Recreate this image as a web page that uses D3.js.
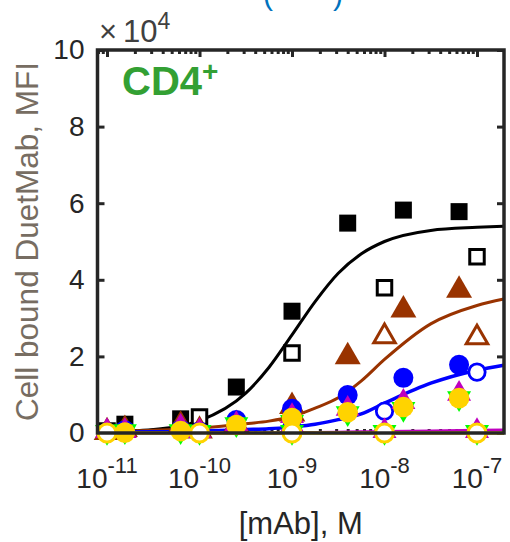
<!DOCTYPE html>
<html>
<head>
<meta charset="utf-8">
<script src="https://cdn.jsdelivr.net/npm/d3@7"></script>
<style>
  body { margin: 0; background: #fff; }
  svg { display: block; font-family: "Liberation Sans", Arial, sans-serif; }
</style>
</head>
<body>
<div id="chart"></div>
<script>
// concentrations (M)
var concFilled = [1.56e-11, 6.25e-11, 2.5e-10, 1e-9, 4e-9, 1.6e-8, 6.4e-8];
var concOpen = [1e-11, 1e-10, 1e-9, 1e-8, 1e-7];

// measured MFI
var blackFilled = [2300, 3700, 12000, 31800, 54800, 58200, 57800];
var blackOpen = [500, 4200, 20900, 37900, 46000];
var brownFilled = [900, 2000, 2200, 6900, 19900, 32100, 37300];
var brownOpen = [200, 600, 5000, 25200, 24900];
var blueFilled = [700, 900, 3400, 6300, 9900, 14400, 17800];
var blueOpen = [300, 500, 1500, 5700, 15900];
var magentaFilled = [500, 1600, 2300, 4400, 6300, 8100, 10200];
var magentaOpen = [500, 500, 2000, 500, 500];
var greenFilled = [500, 500, 2300, 2900, 5200, 6300, 9100];
var greenOpen = [300, 300, 300, 300, 300];
var yellowFilled = [100, 500, 2100, 3900, 5400, 6800, 9100];
var yellowOpen = [0, 0, 0, 0, 0];

// fitted curves
var fitLogConc = [-11.1, -10.5, -10, -9.5, -9.25, -9, -8.75, -8.5, -8.25, -8, -7.5, -7, -6.71];
var fitBlack = [200, 900, 3200, 10400, 17100, 25600, 34300, 41700, 46800, 50000, 52900, 53700, 54000];
var fitBrown = [300, 700, 1300, 2400, 3100, 4300, 6500, 9200, 13600, 19200, 28500, 33300, 35000];
var fitBlue = [200, 300, 500, 900, 1100, 1600, 2300, 3500, 5000, 7800, 13000, 16400, 17700];
var fitMagenta = [0, 0, 0, 0, 0, 100, 150, 200, 300, 400, 550, 700, 800];
var fitYellow = [0, 0, 0, 0, 0, 0, 0, 0, 0, 0, 0, 0, 0];

var yTicks = [0, 20000, 40000, 60000, 80000, 100000];
var xTicks = [1e-11, 1e-10, 1e-9, 1e-8, 1e-7];

(function() {
  var W = 510, H = 542;
  var pL = 97.5, pR = 504, pT = 50, pB = 433;

  var svg = d3.select('#chart').append('svg')
    .attr('width', W)
    .attr('height', H);

  var x = d3.scaleLog().domain([Math.pow(10, -11.103), Math.pow(10, -6.708)]).range([pL, pR]);
  var y = d3.scaleLinear().domain([0, 100000]).range([pB, pT]);

  var axisColor = '#262626';

  // minor log ticks
  var minorTicks = [];
  [-12, -11, -10, -9, -8, -7].forEach(function(e) {
    for (var k = 2; k <= 9; k++) {
      var v = k * Math.pow(10, e);
      if (v > x.domain()[0] && v < x.domain()[1]) minorTicks.push(v);
    }
  });

  function styleAxis(g) {
    g.select('.domain').remove();
    g.selectAll('line').attr('stroke', axisColor).attr('stroke-width', 3);
  }

  svg.append('g')
    .attr('transform', 'translate(0,' + pB + ')')
    .call(d3.axisBottom(x).tickValues(xTicks).tickSize(-7).tickFormat(''))
    .call(styleAxis);
  svg.append('g')
    .attr('transform', 'translate(0,' + pB + ')')
    .call(d3.axisBottom(x).tickValues(minorTicks).tickSize(-4).tickFormat(''))
    .call(styleAxis);
  svg.append('g')
    .attr('transform', 'translate(0,' + pT + ')')
    .call(d3.axisTop(x).tickValues(xTicks).tickSize(-7).tickFormat(''))
    .call(styleAxis);
  svg.append('g')
    .attr('transform', 'translate(0,' + pT + ')')
    .call(d3.axisTop(x).tickValues(minorTicks).tickSize(-4).tickFormat(''))
    .call(styleAxis);

  var yAxis = svg.append('g')
    .attr('transform', 'translate(' + pL + ',0)')
    .call(d3.axisLeft(y).tickValues(yTicks).tickSize(-7).tickPadding(13)
      .tickFormat(function(d) { return d / 10000; }))
    .call(styleAxis);
  yAxis.selectAll('text')
    .attr('fill', axisColor)
    .style('font-size', '28px')
    .attr('font-family', '"Liberation Sans", Arial, sans-serif');

  svg.append('g')
    .attr('transform', 'translate(' + pR + ',0)')
    .call(d3.axisRight(y).tickValues(yTicks).tickSize(-7).tickFormat(''))
    .call(styleAxis);

  // x tick labels 10^n
  var xLab = svg.append('g').selectAll('text')
    .data(xTicks)
    .enter().append('text')
    .attr('x', function(d) { return x(d); })
    .attr('y', 488)
    .attr('text-anchor', 'middle')
    .attr('fill', axisColor)
    .style('font-size', '28px');
  xLab.append('tspan').text('10');
  xLab.append('tspan')
    .attr('dy', -15)
    .style('font-size', '22px')
    .text(function(d) { return '-' + Math.round(-Math.log10(d)); });

  // fitted lines
  var line = d3.line()
    .x(function(d) { return x(Math.pow(10, d[0])); })
    .y(function(d) { return y(d[1]); })
    .curve(d3.curveMonotoneX);

  function drawFit(vals, color, w) {
    svg.append('path')
      .datum(fitLogConc.map(function(l, i) { return [l, vals[i]]; }))
      .attr('d', line)
      .attr('fill', 'none')
      .attr('stroke', color)
      .attr('stroke-width', w);
  }

  var cBlack = '#000000', cBrown = '#993300', cBlue = '#0000ff',
      cMagenta = '#bf00bf', cGreen = '#00ff00', cYellow = '#ffd300';

  drawFit(fitBlack, cBlack, 3);
  drawFit(fitBrown, cBrown, 3);
  drawFit(fitBlue, cBlue, 3.5);
  drawFit(fitMagenta, cMagenta, 3);
  drawFit(fitYellow, cYellow, 3.5);

  // markers
  function drawMarkers(conc, vals, type, size, fill, stroke, sw, rot) {
    svg.append('g').selectAll('path')
      .data(conc.map(function(c, i) { return [c, vals[i]]; }))
      .enter().append('path')
      .attr('d', d3.symbol().type(type).size(size))
      .attr('transform', function(d) {
        return 'translate(' + x(d[0]) + ',' + y(d[1]) + ')' + (rot ? ' rotate(180)' : '');
      })
      .attr('fill', fill)
      .attr('stroke', stroke)
      .attr('stroke-width', sw);
  }

  drawMarkers(concFilled, blackFilled, d3.symbolSquare, 289, cBlack, 'none', 0);
  drawMarkers(concOpen, blackOpen, d3.symbolSquare, 210, '#fff', cBlack, 3);
  drawMarkers(concFilled, brownFilled, d3.symbolTriangle, 292, cBrown, 'none', 0);
  drawMarkers(concOpen, brownOpen, d3.symbolTriangle, 200, '#fff', cBrown, 3);
  drawMarkers(concFilled, blueFilled, d3.symbolCircle, 314, cBlue, 'none', 0);
  drawMarkers(concOpen, blueOpen, d3.symbolCircle, 211, '#fff', cBlue, 2.8);
  drawMarkers(concFilled, magentaFilled, d3.symbolTriangle, 250, cMagenta, 'none', 0);
  drawMarkers(concOpen, magentaOpen, d3.symbolTriangle, 250, cMagenta, 'none', 0);
  drawMarkers(concFilled, greenFilled, d3.symbolTriangle, 250, cGreen, 'none', 0, true);
  drawMarkers(concOpen, greenOpen, d3.symbolTriangle, 250, cGreen, 'none', 0, true);
  drawMarkers(concFilled, yellowFilled, d3.symbolCircle, 333, cYellow, 'none', 0);
  drawMarkers(concOpen, yellowOpen, d3.symbolCircle, 254, '#fff', cYellow, 3);

  // box
  svg.append('rect')
    .attr('x', pL).attr('y', pT)
    .attr('width', pR - pL).attr('height', pB - pT)
    .attr('fill', 'none')
    .attr('stroke', axisColor)
    .attr('stroke-width', 3.5);

  // exponent label
  var exp = svg.append('text')
    .attr('x', 99).attr('y', 42)
    .attr('fill', '#404040')
    .style('font-size', '31px');
  exp.append('tspan').text('\u00d7');
  exp.append('tspan').attr('dx', 6).text('10');
  exp.append('tspan').attr('dy', -13).style('font-size', '23px').text('4');

  // panel label
  var cd4 = svg.append('text')
    .attr('x', 122).attr('y', 95)
    .attr('fill', '#33a033')
    .style('font-size', '40px')
    .style('font-weight', 'bold');
  cd4.append('tspan').text('CD4');
  cd4.append('tspan').attr('dy', -14).style('font-size', '28px').text('+');

  // title above the panel, cut off by the picture edge
  svg.append('text').attr('x', 263).attr('y', 5)
    .attr('fill', '#0072bd').style('font-size', '30px').text('(');
  svg.append('text').attr('x', 333).attr('y', 5)
    .attr('fill', '#0072bd').style('font-size', '30px').text(')');

  // axis labels
  svg.append('text')
    .attr('x', (pL + pR) / 2).attr('y', 534)
    .attr('text-anchor', 'middle')
    .attr('fill', axisColor)
    .style('font-size', '31px')
    .text('[mAb], M');

  svg.append('text')
    .attr('transform', 'translate(38,' + (pT + pB) / 2 + ') rotate(-90)')
    .attr('text-anchor', 'middle')
    .attr('fill', '#776d62')
    .style('font-size', '31.5px')
    .text('Cell bound DuetMab, MFI');
})();
</script>
</body>
</html>
